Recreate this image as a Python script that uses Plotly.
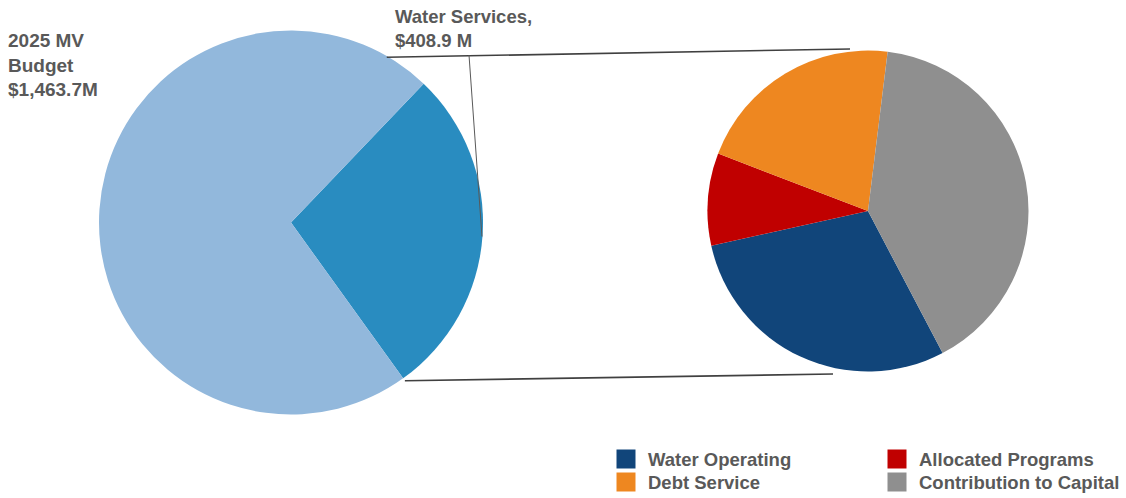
import math
import plotly.graph_objects as go

# ---- data -------------------------------------------------------------
budget_labels = ["Water Services", "Other MV Services"]
budget_values = [408.9, 1054.8]          # $M, total 1,463.7
budget_colors = ["#298CC0", "#92B8DC"]

water_labels = ["Water Operating", "Allocated Programs", "Debt Service", "Contribution to Capital"]
water_values = [119.5, 38.0, 86.4, 165.0]  # $M, total 408.9
water_colors = ["#11457A", "#C00000", "#EE8720", "#8F8F8F"]

budget_title = "2025 MV<br>Budget<br>$1,463.7M"
water_title = "Water Services,<br>$408.9 M"

# ---- page geometry (pixels) ------------------------------------------
W, H = 1126, 498
BIG_C, BIG_R = (291.0, 222.5), 192.0
SUB_C, SUB_R = (868.0, 211.0), 160.5
BIG_ROT = 43.7     # start angle of the Water Services slice, clockwise from 12 o'clock
SUB_ROT = 152.3    # start angle of Water Operating
TEXT_GRAY = "#595959"
FONT = "Liberation Sans"


def px(x):
    return x / W


def py(y):
    return 1 - y / H


def dom(c, r):
    return dict(x=[px(c[0] - r), px(c[0] + r)], y=[py(c[1] + r), py(c[1] - r)])


def rim(c, r, deg):
    a = math.radians(deg)
    return c[0] + r * math.sin(a), c[1] - r * math.cos(a)


fig = go.Figure()

fig.add_trace(go.Pie(
    labels=budget_labels, values=budget_values,
    marker=dict(colors=budget_colors, line=dict(width=0)),
    sort=False, direction="clockwise", rotation=BIG_ROT,
    textinfo="none", showlegend=False, domain=dom(BIG_C, BIG_R),
))

fig.add_trace(go.Pie(
    labels=water_labels, values=water_values,
    marker=dict(colors=water_colors, line=dict(width=0)),
    sort=False, direction="clockwise", rotation=SUB_ROT,
    textinfo="none", showlegend=False, domain=dom(SUB_C, SUB_R),
))

# connector lines between the Water Services slice and the breakdown pie
ws_end = BIG_ROT + 360 * budget_values[0] / sum(budget_values)
top_start = rim(BIG_C, BIG_R - 1, 30.1)
bot_start = rim(BIG_C, BIG_R + 3, ws_end)
top_end = (SUB_C[0] - 18, SUB_C[1] - SUB_R - 1.5)
bot_end = (SUB_C[0] - 35, SUB_C[1] + SUB_R + 2.5)
leader_top = (469.0, 55.0)
leader_bot = rim(BIG_C, BIG_R - 0.5, 94.2)

shapes = []
for (x0, y0), (x1, y1), lw, col in [
    (top_start, top_end, 1.6, "#404040"),
    (bot_start, bot_end, 1.6, "#404040"),
    (leader_top, leader_bot, 1.0, "#595959"),
]:
    shapes.append(dict(type="line", xref="paper", yref="paper",
                       x0=px(x0), y0=py(y0), x1=px(x1), y1=py(y1),
                       line=dict(color=col, width=lw)))

annotations = [
    dict(text=f"<b>{budget_title}</b>", x=px(6), y=py(28), xanchor="left", yanchor="top",
         align="left", showarrow=False, font=dict(family=FONT, size=19, color=TEXT_GRAY)),
    dict(text=f"<b>{water_title}</b>", x=px(393), y=py(4), xanchor="left", yanchor="top",
         align="left", showarrow=False, font=dict(family=FONT, size=18.5, color=TEXT_GRAY)),
]

# two-column legend for the breakdown pie
LEG_X = [616.5, 887.5]
LEG_Y = [459.0, 482.0]
SQ = 19
for i, (lab, col) in enumerate(zip(water_labels, water_colors)):
    cx = LEG_X[i % 2]
    cy = LEG_Y[i // 2]
    shapes.append(dict(type="rect", xref="paper", yref="paper",
                       x0=px(cx), x1=px(cx + SQ), y0=py(cy + SQ / 2), y1=py(cy - SQ / 2),
                       fillcolor=col, line=dict(width=0)))
    annotations.append(dict(text=f"<b>{lab}</b>", x=px(cx + SQ + 10), y=py(cy),
                            xanchor="left", yanchor="middle", showarrow=False,
                            font=dict(family=FONT, size=18.5, color=TEXT_GRAY)))

fig.update_layout(
    width=W, height=H,
    margin=dict(l=0, r=0, t=0, b=0),
    paper_bgcolor="white", plot_bgcolor="white",
    shapes=shapes, annotations=annotations,
    showlegend=False,
)

fig.write_html("out.html")
